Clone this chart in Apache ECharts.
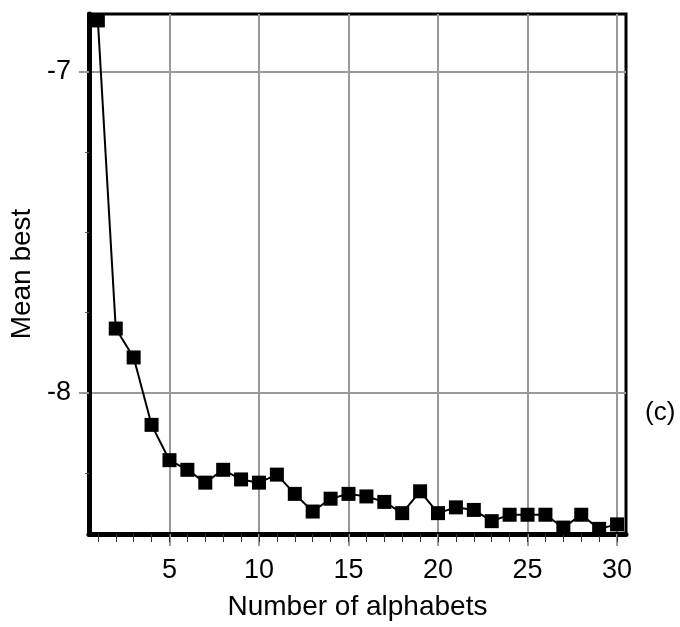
<!DOCTYPE html>
<html>
<head>
<meta charset="utf-8">
<script src="https://cdn.jsdelivr.net/npm/echarts@6/dist/echarts.min.js"></script>
<style>
  html, body { margin: 0; padding: 0; background: #fff; }
  #chart { width: 680px; height: 627px; }
</style>
</head>
<body>
<div id="chart"></div>
<script>
const alphabets = [1, 2, 3, 4, 5, 6, 7, 8, 9, 10, 11, 12, 13, 14, 15,
  16, 17, 18, 19, 20, 21, 22, 23, 24, 25, 26, 27, 28, 29, 30];
const meanBest = [-6.84, -7.80, -7.89, -8.10, -8.21, -8.24, -8.28, -8.24, -8.27, -8.28,
  -8.255, -8.315, -8.37, -8.33, -8.315, -8.323, -8.34, -8.375, -8.307, -8.375,
  -8.357, -8.365, -8.40, -8.38, -8.38, -8.38, -8.42, -8.38, -8.424, -8.41];
const xTicks = [5, 10, 15, 20, 25, 30];
const yTicks = [-8, -7];
const yMinorTicks = [-8.25, -7.75, -7.5, -7.25];

const font = "'Liberation Sans', Arial, sans-serif";
const grid = { left: 88, right: 54, top: 14, bottom: 93 };

const chart = echarts.init(document.getElementById("chart"));
chart.setOption({
  animation: false,
  grid: Object.assign({ show: true, borderColor: '#000', borderWidth: 3 }, grid),
  xAxis: [{
    type: 'value',
    min: 0.5,
    max: 30.5,
    name: 'Number of alphabets',
    nameLocation: 'middle',
    nameGap: 59,
    nameTextStyle: { fontFamily: font, fontSize: 28, color: '#000' },
    axisLine: { show: true, onZero: false, lineStyle: { color: '#000', width: 5 } },
    axisTick: { show: true, customValues: xTicks, length: 12, lineStyle: { color: '#999', width: 2 } },
    axisLabel: { customValues: xTicks, margin: 23, fontFamily: font, fontSize: 27, color: '#000' },
    splitLine: { show: true, lineStyle: { color: '#999', width: 2 } },
  }, {
    type: 'value',
    position: 'bottom',
    min: 0.5,
    max: 30.5,
    axisLine: { show: false },
    axisTick: { show: true, customValues: alphabets, length: 8, lineStyle: { color: '#333', width: 1 } },
    axisLabel: { show: false },
    splitLine: { show: false },
  }],
  yAxis: [{
    type: 'value',
    min: -8.44,
    max: -6.82,
    name: 'Mean best',
    nameLocation: 'middle',
    nameGap: 52,
    nameTextStyle: { fontFamily: font, fontSize: 28, color: '#000' },
    axisLine: { show: true, onZero: false, lineStyle: { color: '#000', width: 5 } },
    axisTick: { show: true, customValues: yTicks, length: 10, lineStyle: { color: '#999', width: 2 } },
    axisLabel: { customValues: yTicks, margin: 18, fontFamily: font, fontSize: 27, color: '#000' },
    splitLine: { show: true, lineStyle: { color: '#999', width: 2 } },
  }, {
    type: 'value',
    position: 'left',
    min: -8.44,
    max: -6.82,
    axisLine: { show: false },
    axisTick: { show: true, customValues: yMinorTicks, length: 4, lineStyle: { color: '#555', width: 1 } },
    axisLabel: { show: false },
    splitLine: { show: false },
  }],
  graphic: [{
    type: 'text',
    left: 645,
    top: 400,
    style: { text: '(c)', font: '26px ' + font, fill: '#000' },
  }],
  series: [{
    type: 'line',
    data: alphabets.map((a, i) => [a, meanBest[i]]),
    color: '#000',
    lineStyle: { color: '#000', width: 2 },
    symbol: 'rect',
    symbolSize: 14,
    itemStyle: { color: '#000' },
    clip: false,
  }],
});
</script>
</body>
</html>
